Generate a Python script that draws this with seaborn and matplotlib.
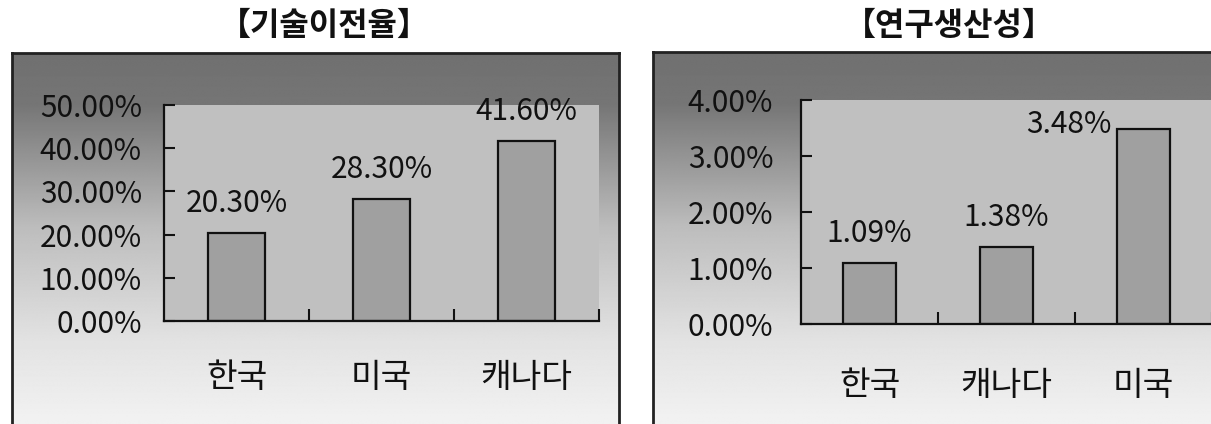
import numpy as np
import pandas as pd
import matplotlib
matplotlib.use("Agg")
import matplotlib.pyplot as plt
from matplotlib.ticker import FuncFormatter, FixedLocator
import seaborn as sns

# ---- data ----
tech_title = "【기술이전율】"
tech_categories = ["한국", "미국", "캐나다"]
tech_values = [20.30, 28.30, 41.60]
tech_ticks = [0, 10, 20, 30, 40, 50]

prod_title = "【연구생산성】"
prod_categories = ["한국", "캐나다", "미국"]
prod_values = [1.09, 1.38, 3.48]
prod_ticks = [0, 1, 2, 3, 4]

sns.set_theme(style="white")
plt.rcParams["font.family"] = ["Noto Sans CJK KR", "DejaVu Sans"]

W, H = 1211, 424
fig = plt.figure(figsize=(W / 100, H / 100), dpi=100)
fig.patch.set_facecolor("white")


def px_rect(x0, y0, x1, y1):
    # pixel box (top-left origin) -> figure fraction rect
    return [x0 / W, (H - y1) / H, (x1 - x0) / W, (y1 - y0) / H]


def gradient_box(x0, y0, x1, y1, show_right=True):
    bg = fig.add_axes(px_rect(x0, y0, x1, y1), zorder=0)
    t = np.linspace(0, 1, 400)
    vals = np.interp(t, [0, 0.13, 0.45, 0.75, 1.0], [0.44, 0.46, 0.74, 0.89, 0.96])
    img = np.repeat(vals[:, None], 2, axis=1)
    bg.imshow(img, cmap="gray", vmin=0, vmax=1, aspect="auto",
              extent=[0, 1, 0, 1], origin="upper", interpolation="bilinear")
    bg.set_xlim(0, 1)
    bg.set_ylim(0, 1)
    bg.set_xticks([])
    bg.set_yticks([])
    for side, sp in bg.spines.items():
        sp.set_color("#222222")
        sp.set_linewidth(2)
        sp.set_visible(True)
    bg.spines["bottom"].set_visible(False)
    if not show_right:
        bg.spines["right"].set_visible(False)
    return bg


def panel(rect, cats, vals, ticks, ypad, xpad, fsize, csize):
    ax = fig.add_axes(rect, zorder=2)
    ax.set_facecolor("#c0c0c0")
    df = pd.DataFrame({"cat": cats, "val": vals})
    sns.barplot(data=df, x="cat", y="val", order=cats, color="#a0a0a0",
                saturation=1, edgecolor="#111111", linewidth=1.6, width=0.39, ax=ax)
    ymax = ticks[-1]
    ax.set_xlim(-0.5, len(cats) - 0.5)
    ax.set_ylim(0, ymax)
    ax.set_xlabel("")
    ax.set_ylabel("")
    for s in ["top", "right"]:
        ax.spines[s].set_visible(False)
    for s in ["left", "bottom"]:
        ax.spines[s].set_color("#111111")
        ax.spines[s].set_linewidth(1.6)
    ax.yaxis.set_major_locator(FixedLocator(ticks))
    ax.yaxis.set_major_formatter(FuncFormatter(lambda v, p: f"{v:.2f}%"))
    ax.tick_params(axis="y", direction="in", length=8, width=1.5, color="#111111",
                   pad=ypad, labelsize=fsize, labelcolor="#111111", left=True)
    ax.set_xticks(range(len(cats)))
    ax.set_xticklabels(cats)
    ax.tick_params(axis="x", which="major", length=0, pad=xpad, labelsize=csize,
                   labelcolor="#111111")
    ax.set_xticks(np.arange(0.5, len(cats), 1.0), minor=True)
    ax.tick_params(axis="x", which="minor", direction="in", length=9, width=1.5,
                   color="#111111", bottom=True)
    for patch, v in zip(ax.patches, vals):
        x = patch.get_x()
        w = patch.get_width()
        top = patch.get_height()
        if top > 0.85 * ymax:
            # no room above the bar: label sits beside it, to the left
            ax.annotate(f"{v:.2f}%", xy=(x, top), xytext=(-4, 3),
                        textcoords="offset points", ha="right", va="center",
                        fontsize=fsize, color="#111111")
        else:
            ax.annotate(f"{v:.2f}%", xy=(x + w / 2, top), xytext=(0, 10),
                        textcoords="offset points", ha="center", va="bottom",
                        fontsize=fsize, color="#111111")
    return ax


gradient_box(12, 53, 619, 440)
gradient_box(653, 52, 1240, 440, show_right=False)

panel(px_rect(164, 105, 599, 321), tech_categories, tech_values, tech_ticks,
      ypad=16, xpad=28, fsize=21.5, csize=24)
panel(px_rect(801, 100, 1212, 324), prod_categories, prod_values, prod_ticks,
      ypad=20, xpad=32, fsize=21.5, csize=24)

fig.text(324 / W, 1 - 26 / H, tech_title, ha="center", va="center",
         fontsize=23, fontweight="bold", color="#111111")
fig.text(949 / W, 1 - 26 / H, prod_title, ha="center", va="center",
         fontsize=23, fontweight="bold", color="#111111")

fig.savefig("out.png", dpi=100, facecolor="white")
